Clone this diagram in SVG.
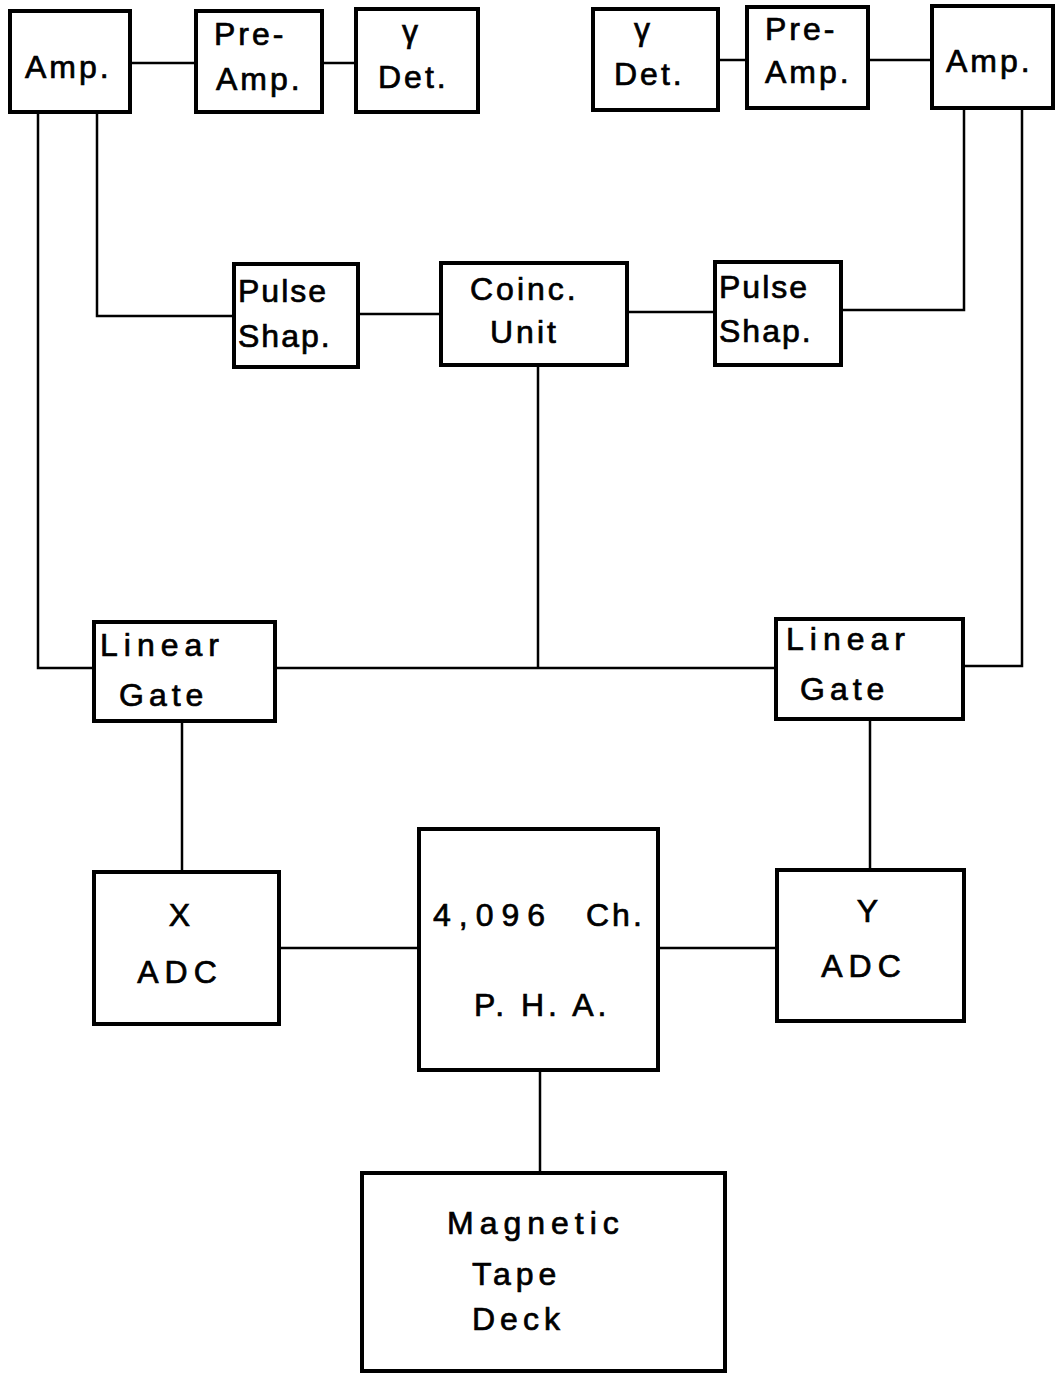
<svg xmlns="http://www.w3.org/2000/svg" width="1055" height="1373" viewBox="0 0 1055 1373">
<style>
.box{fill:#fff;stroke:#000;stroke-width:4}
.wire{fill:none;stroke:#000;stroke-width:2.5}
text{font-family:"Liberation Sans",Arial,sans-serif;font-size:32px;letter-spacing:3px;fill:#000;stroke:#000;stroke-width:0.7}
</style>
<rect width="1055" height="1373" fill="#fff"/>
<g id="connectors">
<path class="wire" d="M130 63H196"/>
<path class="wire" d="M322 63H356"/>
<path class="wire" d="M718 60H747"/>
<path class="wire" d="M868 60H932"/>
<path class="wire" d="M38 112V668H94"/>
<path class="wire" d="M97 112V316H234"/>
<path class="wire" d="M358 314H441"/>
<path class="wire" d="M627 312H715"/>
<path class="wire" d="M841 310H964V108"/>
<path class="wire" d="M1022 108V666H963"/>
<path class="wire" d="M538 365V668"/>
<path class="wire" d="M275 668H776"/>
<path class="wire" d="M182 721V872"/>
<path class="wire" d="M870 719V870"/>
<path class="wire" d="M279 948H419"/>
<path class="wire" d="M658 948H777"/>
<path class="wire" d="M540 1070V1173"/>
</g>
<g id="amp-left"><rect class="box" x="10" y="11" width="120" height="101"/><text x="25" y="78">Amp.</text></g>
<g id="preamp-left"><rect class="box" x="196" y="11" width="126" height="101"/><text x="214" y="45">Pre-</text><text x="216" y="90">Amp.</text></g>
<g id="det-left"><rect class="box" x="356" y="9" width="122" height="103"/><text x="402" y="42">γ</text><text x="378" y="88">Det.</text></g>
<g id="det-right"><rect class="box" x="593" y="9" width="125" height="101"/><text x="634" y="40">γ</text><text x="614" y="85">Det.</text></g>
<g id="preamp-right"><rect class="box" x="747" y="7" width="121" height="101"/><text x="765" y="40">Pre-</text><text x="765" y="83">Amp.</text></g>
<g id="amp-right"><rect class="box" x="932" y="6" width="121" height="102"/><text x="946" y="72">Amp.</text></g>
<g id="pulse-left"><rect class="box" x="234" y="264" width="124" height="103"/><text x="238" y="302" style="letter-spacing:2px">Pulse</text><text x="238" y="347" style="letter-spacing:2px">Shap.</text></g>
<g id="coinc"><rect class="box" x="441" y="263" width="186" height="102"/><text x="470" y="300">Coinc.</text><text x="490" y="343">Unit</text></g>
<g id="pulse-right"><rect class="box" x="715" y="262" width="126" height="103"/><text x="719" y="298" style="letter-spacing:2px">Pulse</text><text x="719" y="342" style="letter-spacing:2px">Shap.</text></g>
<g id="gate-left"><rect class="box" x="94" y="622" width="181" height="99"/><text x="100" y="656" style="letter-spacing:6px">Linear</text><text x="119" y="706" style="letter-spacing:5px">Gate</text></g>
<g id="gate-right"><rect class="box" x="776" y="619" width="187" height="100"/><text x="786" y="650" style="letter-spacing:6px">Linear</text><text x="800" y="700" style="letter-spacing:5px">Gate</text></g>
<g id="x-adc"><rect class="box" x="94" y="872" width="185" height="152"/><text x="181" y="926" text-anchor="middle">X</text><text x="180" y="983" text-anchor="middle" style="letter-spacing:6px">ADC</text></g>
<g id="pha"><rect class="box" x="419" y="829" width="239" height="241"/><text x="433" y="926" style="letter-spacing:8px">4,096 <tspan x="586" style="letter-spacing:3px">Ch.</tspan></text><text x="474" y="1016" style="letter-spacing:4px">P. H. A.</text></g>
<g id="y-adc"><rect class="box" x="777" y="870" width="187" height="151"/><text x="869" y="922" text-anchor="middle">Y</text><text x="864" y="977" text-anchor="middle" style="letter-spacing:6px">ADC</text></g>
<g id="tape"><rect class="box" x="362" y="1173" width="363" height="198"/><text x="447" y="1234" style="letter-spacing:6px">Magnetic</text><text x="472" y="1285" style="letter-spacing:5px">Tape</text><text x="472" y="1330" style="letter-spacing:5px">Deck</text></g>
</svg>
